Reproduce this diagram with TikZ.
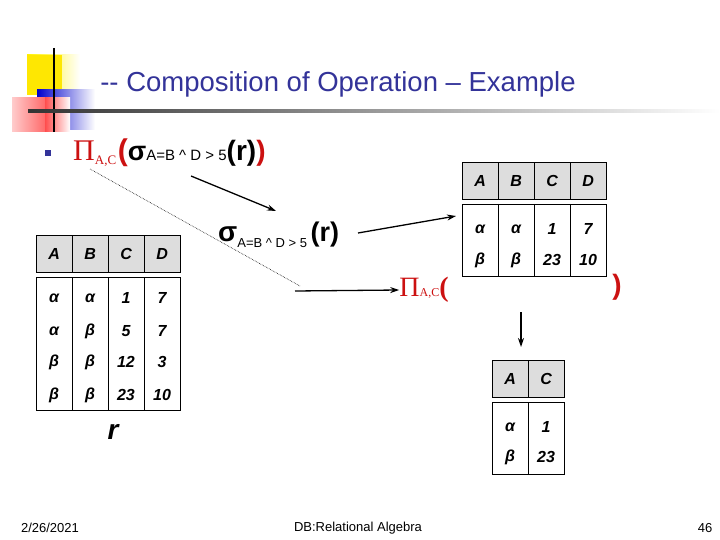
\documentclass[tikz,border=0pt]{standalone}
\usepackage{fontspec}
\setmainfont{Liberation Sans}
\newfontfamily\serifA{Liberation Serif}
\usetikzlibrary{arrows.meta}
\definecolor{ttl}{HTML}{333399}
\definecolor{pired}{HTML}{CC1111}
\definecolor{hdr}{HTML}{DDDDDD}
\begin{document}
\begin{tikzpicture}[x=1pt,y=-1pt,
  hcell/.style={draw,fill=hdr,minimum width=36pt,minimum height=37pt,inner sep=0pt,font=\fontsize{16}{16}\selectfont\bfseries\itshape,anchor=north west},
  dcell/.style={font=\fontsize{16}{16}\selectfont\bfseries\itshape},
  arr/.style={-{Stealth[length=9pt,width=6pt]},line width=1.3pt},
  foot/.style={font=\fontsize{13}{13}\selectfont}]
\useasboundingbox (0,0) rectangle (720,540);
% decoration
\shade[left color=yellow!90!orange, right color=white] (27,55) rectangle (80,95);
\fill[yellow!90!orange] (27,55) rectangle (62,95);
\shade[left color=blue!80!black, right color=white] (37,90) rectangle (95,130);
\shade[left color=red!20, right color=red!70] (12,98) rectangle (55,132);
\shade[left color=red!70, right color=white] (45,98) rectangle (70,132);
\draw[line width=2pt] (54,48) -- (54,132);
\shade[left color=black!80, right color=white] (28,109.5) rectangle (720,112.5);
\node[font=\fontsize{27.5}{28}\selectfont,text=ttl] (title) at (338,84) {-{}- Composition of Operation – Example};
\fill[ttl] (45,150) rectangle (51,156);
% expression
\node[anchor=west,inner sep=0pt] (expr) at (73,153) {\textcolor{pired}{\serifA\fontsize{30}{30}\selectfont Π\fontsize{13}{13}\selectfont\raisebox{-4pt}{A,C}}\,\textcolor{pired}{\fontsize{30}{30}\selectfont\bfseries (}{\fontsize{27}{27}\selectfont\bfseries σ}\fontsize{15}{15}\selectfont A=B \^{} D > 5\fontsize{28}{28}\selectfont\bfseries(r)\textcolor{pired}{)}};
% left table
\foreach \c [count=\i from 0] in {A,B,C,D}{\node[hcell] (lh\i) at (36+36*\i,235) {\c};}
\draw (36,277) rectangle (180,410);
\foreach \i in {1,2,3}{\draw (36+36*\i,277) -- (36+36*\i,410);}
\foreach \a/\b/\c/\d/\y in {α/α/1/7/298,α/β/5/7/331,β/β/12/3/362,β/β/23/10/395}{
  \node[dcell] at (54,\y) {\a}; \node[dcell] at (90,\y) {\b}; \node[dcell] at (126,\y) {\c}; \node[dcell] at (162,\y) {\d};}
\node[font=\fontsize{28}{28}\selectfont\bfseries\itshape] (rlab) at (113,432) {r};
% sigma expression
\node[anchor=west,inner sep=0pt] (sig) at (218,235) {{\fontsize{28}{28}\selectfont\bfseries σ}\fontsize{13}{13}\selectfont\raisebox{-6pt}{A=B \^{} D > 5} \fontsize{27}{27}\selectfont\bfseries(r)};
% right table
\foreach \c [count=\i from 0] in {A,B,C,D}{\node[hcell] (rh\i) at (462+36*\i,162) {\c};}
\draw (462,204) rectangle (606,276);
\foreach \i in {1,2,3}{\draw (462+36*\i,204) -- (462+36*\i,276);}
\foreach \a/\b/\c/\d/\y in {α/α/1/7/229,β/β/23/10/260}{
  \node[dcell] at (480,\y) {\a}; \node[dcell] at (516,\y) {\b}; \node[dcell] at (552,\y) {\c}; \node[dcell] at (588,\y) {\d};}
\coordinate (rtab) at (456,216);
\node[text=pired,inner sep=0pt] (proj) at (424,290) {\serifA\fontsize{28}{28}\selectfont Π\fontsize{12}{12}\selectfont\raisebox{0pt}{A,C}\fontsize{28}{28}\selectfont\bfseries(};
\node[text=pired,font=\fontsize{28}{28}\selectfont\bfseries] (close) at (617,287) {)};
% result table
\foreach \c [count=\i from 0] in {A,C}{\node[hcell] (ph\i) at (492+36*\i,360) {\c};}
\draw (492,402) rectangle (564,474);
\draw (528,402) -- (528,474);
\foreach \a/\c/\y in {α/1/427,β/23/457}{\node[dcell] at (510,\y) {\a}; \node[dcell] at (546,\y) {\c};}
% connectors
\coordinate (e1) at (191,176); \coordinate (e2) at (276,211);
\draw[arr] (e1) -- (e2);
\coordinate (d1) at (90,169); \coordinate (d2) at (300,286);
\draw[densely dotted,line width=0.6pt] (d1) -- (d2);
\coordinate (s1) at (358,233);
\draw[arr] (s1) -- (rtab);
\coordinate (h1) at (295,291);
\draw[arr] (h1) -- (proj.west);
\coordinate (v1) at (521,312); \coordinate (v2) at (521,347);
\draw[arr] (v1) -- (v2);
% footer
\node[foot] (date) at (50,528) {2/26/2021};
\node[foot] (mid) at (358,528) {DB:Relational Algebra};
\node[foot] (pg) at (705,528) {46};
\end{tikzpicture}
\end{document}
